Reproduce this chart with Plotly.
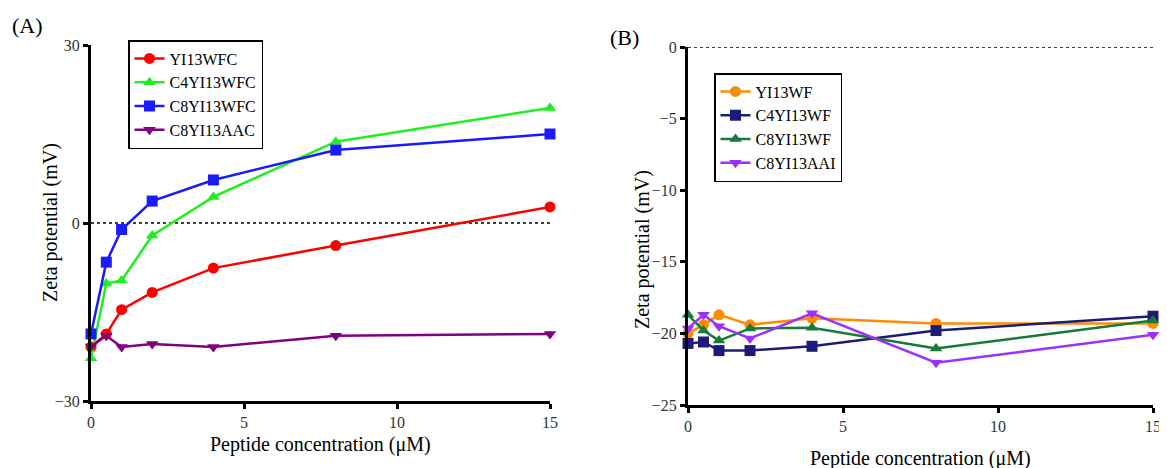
import plotly.graph_objects as go

conc = [0, 0.5, 1, 2, 4, 8, 15]

# Panel A
a_names = ["YI13WFC", "C4YI13WFC", "C8YI13WFC", "C8YI13AAC"]
a_yi13wfc = [-20.9, -18.7, -14.6, -11.7, -7.6, -3.8, 2.7]
a_c4yi13wfc = [-22.8, -10.2, -9.7, -2.1, 4.4, 13.7, 19.4]
a_c8yi13wfc = [-18.7, -6.6, -1.1, 3.7, 7.25, 12.3, 15.0]
a_c8yi13aac = [-20.8, -19.0, -20.9, -20.4, -20.9, -19.0, -18.7]

# Panel B
b_names = ["YI13WF", "C4YI13WF", "C8YI13WF", "C8YI13AAI"]
b_yi13wf = [-20.0, -19.4, -18.7, -19.4, -18.95, -19.3, -19.3]
b_c4yi13wf = [-20.7, -20.6, -21.2, -21.2, -20.9, -19.8, -18.8]
b_c8yi13wf = [-18.7, -19.8, -20.5, -19.65, -19.6, -21.05, -19.1]
b_c8yi13aai = [-19.65, -18.7, -19.5, -20.35, -18.6, -22.05, -20.1]

a_colors = ["#ff0000", "#1ef01e", "#1a1aff", "#800080"]
b_colors = ["#ff8c00", "#1c1c78", "#157a3a", "#9b30ff"]
a_symbols = ["circle", "triangle-up", "square", "triangle-down"]
b_symbols = ["circle", "square", "triangle-up", "triangle-down"]

FONT = "Liberation Serif"
fig = go.Figure()

for name, ys, c, s in zip(a_names, [a_yi13wfc, a_c4yi13wfc, a_c8yi13wfc, a_c8yi13aac], a_colors, a_symbols):
    fig.add_trace(go.Scatter(x=conc, y=ys, name=name, mode="lines+markers",
                             line=dict(color=c, width=2.5),
                             marker=dict(symbol=s, size=11, color=c),
                             cliponaxis=False, xaxis="x", yaxis="y", legend="legend"))

for name, ys, c, s in zip(b_names, [b_yi13wf, b_c4yi13wf, b_c8yi13wf, b_c8yi13aai], b_colors, b_symbols):
    fig.add_trace(go.Scatter(x=conc, y=ys, name=name, mode="lines+markers",
                             line=dict(color=c, width=2.5),
                             marker=dict(symbol=s, size=11, color=c),
                             cliponaxis=False, xaxis="x2", yaxis="y2", legend="legend2"))

# page body has an 8px margin; work in screenshot pixels and shift
OFF = 8
W, H = 1167 - OFF, 468 - OFF


def px(x):
    return (x - OFF) / W


def py(y):
    return 1 - (y - OFF) / H


axis_common = dict(showline=True, linecolor="black", linewidth=3, ticks="outside",
                   ticklen=5, tickwidth=2.5, tickcolor="black", showgrid=False, zeroline=False,
                   automargin=False,
                   tickfont=dict(family=FONT, size=16, color="#333"))

fig.update_layout(
    template="none",
    width=W, height=H, margin=dict(l=0, r=0, t=0, b=0, autoexpand=False),
    paper_bgcolor="white", plot_bgcolor="white",
    font=dict(family=FONT, color="black"),
    xaxis=dict(domain=[px(91), px(550)], range=[0, 15], tickvals=[0, 5, 10, 15],
               anchor="y", **axis_common),
    yaxis=dict(domain=[py(401), py(45)], range=[-30, 30], tickvals=[-30, 0, 30],
               anchor="x", **axis_common),
    xaxis2=dict(domain=[px(688), px(1153)], range=[0, 15], tickvals=[0, 5, 10, 15],
                anchor="y2", **axis_common),
    yaxis2=dict(domain=[py(405), py(47)], range=[-25, 0], tickvals=[0, -5, -10, -15, -20, -25],
                anchor="x2", **axis_common),
    legend=dict(x=px(128), y=py(40), xanchor="left", yanchor="top",
                bordercolor="black", borderwidth=1.5, bgcolor="white",
                font=dict(family=FONT, size=16), tracegroupgap=0, itemwidth=30),
    legend2=dict(x=px(714), y=py(73), xanchor="left", yanchor="top",
                 bordercolor="black", borderwidth=1.5, bgcolor="white",
                 font=dict(family=FONT, size=16), tracegroupgap=0, itemwidth=30),
    showlegend=True,
)

# zero reference lines
fig.add_shape(type="line", xref="x", yref="y", x0=0, x1=15, y0=0, y1=0,
              line=dict(color="black", width=1.5, dash="dot"), layer="below")
fig.add_shape(type="line", xref="x2", yref="y2", x0=0, x1=15, y0=0, y1=0,
              line=dict(color="black", width=1.5, dash="dot"), layer="below")

ann = [
    dict(text="(A)", x=px(10), y=py(25), xanchor="left", yanchor="middle", size=22),
    dict(text="(B)", x=px(608), y=py(38), xanchor="left", yanchor="middle", size=22),
    dict(text="Peptide concentration (μM)", x=px(320), y=py(444), xanchor="center", yanchor="middle", size=20),
    dict(text="Peptide concentration (μM)", x=px(920), y=py(458), xanchor="center", yanchor="middle", size=20),
]
for a in ann:
    fig.add_annotation(text=a["text"], xref="paper", yref="paper", x=a["x"], y=a["y"],
                       xanchor=a["xanchor"], yanchor=a["yanchor"], showarrow=False,
                       font=dict(family=FONT, size=a["size"], color="black"))

fig.add_annotation(text="Zeta potential (mV)", xref="paper", yref="paper", x=px(50), y=py(223),
                   textangle=-90, showarrow=False, xanchor="center", yanchor="middle",
                   font=dict(family=FONT, size=20, color="black"))
fig.add_annotation(text="Zeta potential (mV)", xref="paper", yref="paper", x=px(643), y=py(250),
                   textangle=-90, showarrow=False, xanchor="center", yanchor="middle",
                   font=dict(family=FONT, size=20, color="black"))

fig.write_html("out.html")
